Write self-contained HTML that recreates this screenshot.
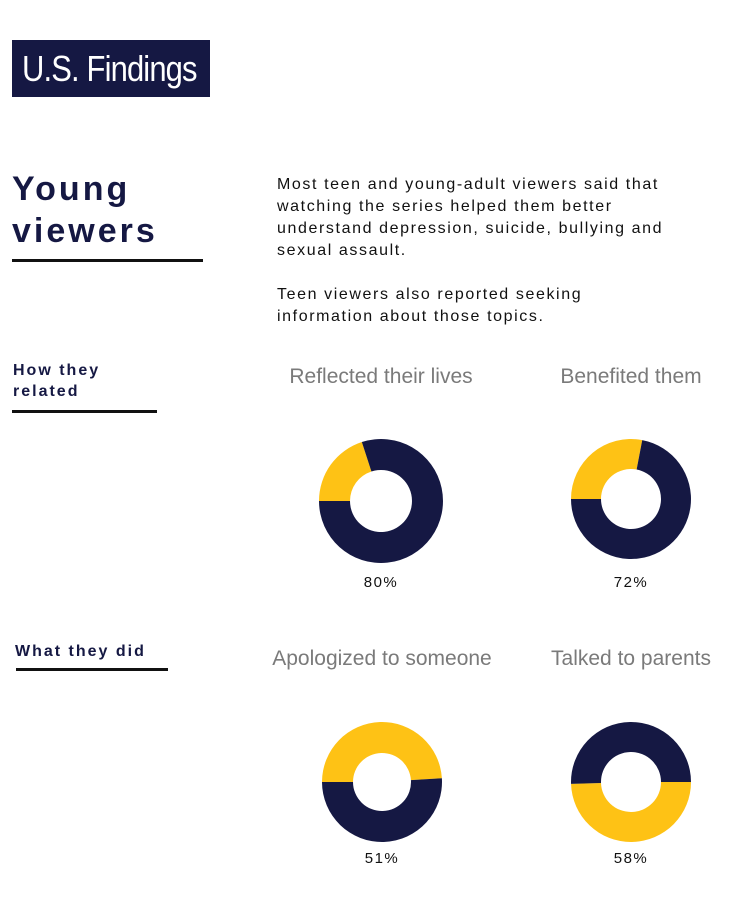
<!DOCTYPE html>
<html><head><meta charset="utf-8"><style>
body{margin:0;width:733px;height:916px;background:#fff;position:relative;overflow:hidden;font-family:"Liberation Sans",sans-serif}
.a{position:absolute}
.title{left:12px;top:40px;width:198px;height:57px;background:#151843}
.title span{position:absolute;left:10px;top:0;color:#fff;font-size:36px;line-height:57px;white-space:nowrap;transform:scaleX(0.86);transform-origin:0 50%;letter-spacing:-1px}
.h1{left:12px;top:168px;font-size:34px;font-weight:bold;color:#151843;letter-spacing:3px;line-height:42px}
.body{left:277px;top:174px;font-size:16px;letter-spacing:1.6px;line-height:22px;color:#111;width:456px;white-space:nowrap}
.h2{font-size:16px;font-weight:bold;color:#151843;letter-spacing:2px;line-height:21px}
.rule{height:3px;background:#111}
.ct{font-size:21px;color:#7a7a7a;text-align:center;width:280px;white-space:nowrap}
.pct{font-size:15px;letter-spacing:1.5px;color:#111;text-align:center;width:100px}
</style></head><body>
<div class="a title"><span>U.S. Findings</span></div>
<div class="a h1">Young<br>viewers</div>
<div class="a rule" style="left:12px;top:259px;width:191px"></div>
<div class="a body">Most teen and young-adult viewers said that<br>watching the series helped them better<br>understand depression, suicide, bullying and<br>sexual assault.<br><br>Teen viewers also reported seeking<br>information about those topics.</div>
<div class="a h2" style="left:13px;top:360px">How they<br>related</div>
<div class="a rule" style="left:12px;top:410px;width:145px"></div>
<div class="a h2" style="left:15px;top:641px">What they did</div>
<div class="a rule" style="left:16px;top:668px;width:152px"></div>
<svg class="a" id="ch" style="left:0;top:0" width="733" height="916"></svg>
<script>
const titles=["Reflected their lives","Benefited them","Apologized to someone","Talked to parents"];
const values=[80,72,51,58];
const navyShare=[0.80,0.72,0.51,0.505];
const yellowStart=[270,270,270,90];
const cx=[381,631,382,631],cy=[501,499,782,782],ro=[62,60,60,60],ri=[31,30,29,30];
const titleTop=[365,365,647,647],pctTop=[574,574,850,850];
const svg=document.getElementById('ch'),NS='http://www.w3.org/2000/svg';
function pt(x,y,r,a){a=(a-90)*Math.PI/180;return [x+r*Math.cos(a),y+r*Math.sin(a)];}
function arc(x,y,R,r,a0,a1){const l=(a1-a0)>180?1:0;const p1=pt(x,y,R,a0),p2=pt(x,y,R,a1),p3=pt(x,y,r,a1),p4=pt(x,y,r,a0);
return `M${p1}A${R},${R} 0 ${l} 1 ${p2}L${p3}A${r},${r} 0 ${l} 0 ${p4}Z`;}
for(let i=0;i<values.length;i++){
 const y0=yellowStart[i],ys=(1-navyShare[i])*360;
 const segs=[[y0,y0+ys,'#fec215','yellow-slice'],[y0+ys,y0+360,'#151843','navy-slice']];
 segs.forEach(s=>{const p=document.createElementNS(NS,'path');p.setAttribute('d',arc(cx[i],cy[i],ro[i],ri[i],s[0],s[1]));p.setAttribute('fill',s[2]);
 
 
 svg.appendChild(p);});
 const t=document.createElement('div');t.className='a ct';t.style.left=(cx[i]-140)+'px';t.style.top=titleTop[i]+'px';t.textContent=titles[i];
 
 
 document.body.appendChild(t);
 const q=document.createElement('div');q.className='a pct';q.style.left=(cx[i]-50)+'px';q.style.top=pctTop[i]+'px';q.textContent=values[i]+'%';
 
 
 document.body.appendChild(q);
}
</script>
</body></html>
